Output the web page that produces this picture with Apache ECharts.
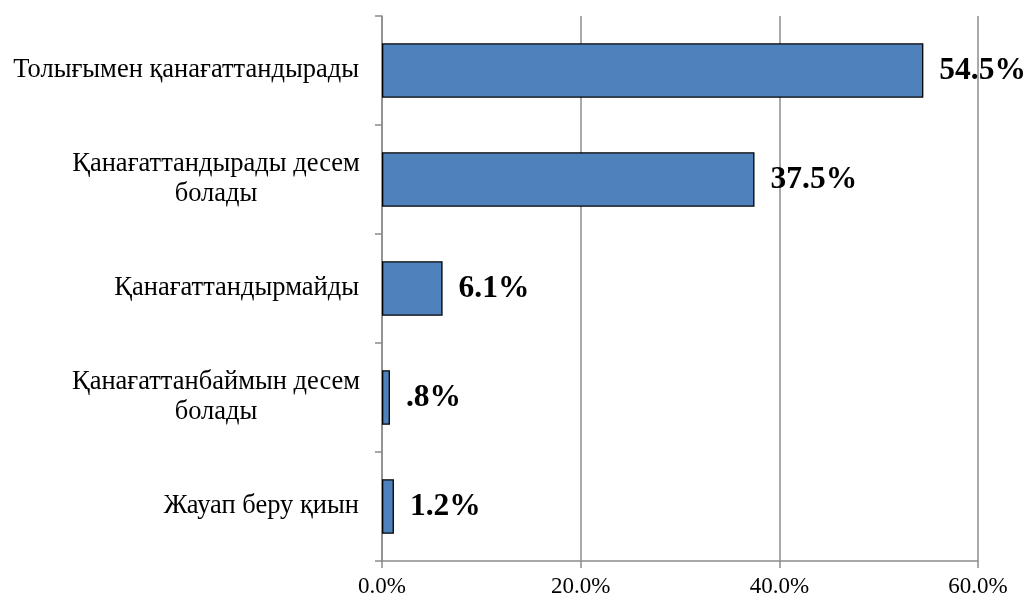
<!DOCTYPE html>
<html>
<head>
<meta charset="utf-8">
<script src="https://cdn.jsdelivr.net/npm/echarts@6/dist/echarts.min.js"></script>
<style>
  html, body { margin: 0; padding: 0; background: #fff; }
  #show { width: 1029px; height: 601px; }
</style>
</head>
<body>
<div id="show"></div>
<script>
    // жауаптар
    var categories = ['Толығымен қанағаттандырады', 'Қанағаттандырады десем\nболады', 'Қанағаттандырмайды', 'Қанағаттанбаймын десем\nболады', 'Жауап беру қиын'];
    var values = [54.5, 37.5, 6.1, 0.8, 1.2];
    var xTicks = [0, 20, 40, 60];

    var myChart = echarts.init(document.getElementById('show'));
    var serif = '"Liberation Serif", "Times New Roman", serif';

    option = {
        animation: false,
        grid: { left: 382, right: 51, top: 16, bottom: 40, containLabel: false },
        xAxis: {
            type: 'value',
            min: xTicks[0],
            max: xTicks[xTicks.length - 1],
            interval: 20,
            axisLine: { show: true, lineStyle: { color: '#8c8c8c', width: 1.5 } },
            axisTick: { show: true, length: 7, lineStyle: { color: '#8c8c8c', width: 1.5 } },
            splitLine: { show: true, lineStyle: { color: '#8c8c8c', width: 1.5 } },
            axisLabel: {
                color: '#000', fontFamily: serif, fontSize: 23, margin: 14,
                formatter: function (v) { return v.toFixed(1) + '%'; }
            }
        },
        yAxis: {
            type: 'category',
            inverse: true,
            data: categories,
            axisLine: { show: true, lineStyle: { color: '#8c8c8c', width: 1.5 } },
            axisTick: { show: true, length: 7, lineStyle: { color: '#8c8c8c', width: 1.5 } },
            axisLabel: {
                color: '#000', fontFamily: serif, fontSize: 26.5, margin: 23, lineHeight: 30,
                formatter: function (v) {
                    if (v.indexOf('\n') < 0) return v;
                    return v.split('\n').map(function (s) { return '{c|' + s + '}'; }).join('\n');
                },
                rich: {
                    c: { fontFamily: serif, fontSize: 26.5, lineHeight: 30, width: 286, align: 'center', color: '#000' }
                }
            }
        },
        series: [{
            type: 'bar',
            data: values,
            barWidth: '50%',
            itemStyle: { color: '#4f81bd', borderColor: '#000', borderWidth: 1.3 },
            label: {
                show: true,
                position: 'right',
                distance: 16,
                color: '#000',
                fontFamily: serif,
                fontSize: 31.5,
                fontWeight: 'bold',
                formatter: function (p) {
                    var s = p.value.toFixed(1);
                    if (p.value < 1) s = s.replace(/^0/, '');
                    return s + '%';
                }
            }
        }]
    };
    myChart.setOption(option);
</script>
</body>
</html>
